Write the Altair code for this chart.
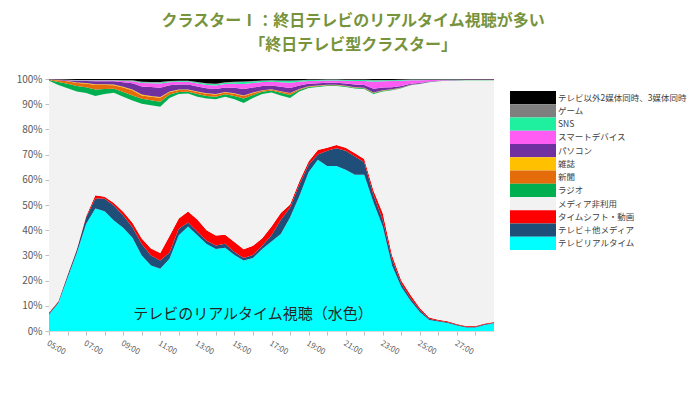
import altair as alt
import pandas as pd

# time of day in hours (05:00 .. 29:00), half-hour steps
hours = [5.0, 5.5, 6.0, 6.5, 7.0, 7.5, 8.0, 8.5, 9.0, 9.5, 10.0, 10.5, 11.0, 11.5,
         12.0, 12.5, 13.0, 13.5, 14.0, 14.5, 15.0, 15.5, 16.0, 16.5, 17.0, 17.5,
         18.0, 18.5, 19.0, 19.5, 20.0, 20.5, 21.0, 21.5, 22.0, 22.5, 23.0, 23.5,
         24.0, 24.5, 25.0, 25.5, 26.0, 26.5, 27.0, 27.5, 28.0, 28.5, 29.0]

# shares (%) per series, bottom of the stack first
realtime = [6.5, 11, 21, 31, 42.5, 48.6, 47.5, 43.8, 41, 37, 30, 26, 24.7, 28.7,
            38, 41.5, 38, 34.5, 32.5, 33, 30.2, 28, 29, 32.5, 35.5, 38.5,
            45, 53.5, 63, 68, 65.5, 65.5, 64, 62, 62, 51, 41.5, 26,
            17.5, 12, 7.5, 4.4, 3.8, 3.2, 2.2, 1.4, 1.4, 2.4, 3.1]
tv_plus = [0.5, 0.5, 1, 1.2, 2.5, 4, 5, 6, 4.8, 4.2, 4.5, 4, 3.3, 2.5,
           2.6, 1.6, 1.4, 1.3, 1.4, 1.6, 1.1, 1.0, 1.2, 1.3, 2.5, 5.5,
           4, 4.5, 3, 2, 6, 7, 7.5, 7.2, 5, 3, 2.5, 2.5,
           1.3, 1, 0.8, 0.5, 0.3, 0.3, 0.3, 0.3, 0.3, 0.3, 0.2]
timeshift = [0.3, 0.3, 0.3, 0.3, 0.5, 1.3, 0.8, 1, 1.5, 1.8, 2.2, 2.7, 3, 6.5,
             4, 4.3, 4.8, 4.2, 4, 3.6, 4, 3.4, 3.6, 3, 3.5, 2.8,
             1.2, 1.3, 1.3, 1.8, 1.2, 1.3, 1.2, 1.3, 1.3, 1.8, 2.7, 1.6,
             1.2, 1.3, 0.8, 0.5, 0.4, 0.4, 0.3, 0.3, 0.3, 0.3, 0.3]
nonuse = [92.0, 85.8, 74.0, 62.5, 48.9, 39.4, 40.7, 43.7, 45.7, 48.5, 53.5, 56.9, 58.0, 54.8,
          49.4, 46.8, 48.8, 52.3, 54.1, 54.8, 56.7, 58.1, 58.7, 57.2, 53.1, 46.7,
          42.3, 35.7, 29.1, 25.0, 24.5, 23.4, 24.1, 25.7, 27.7, 38.2, 48.3, 65.4,
          76.3, 83.2, 88.9, 93.3, 94.6, 95.4, 96.6, 97.5, 97.5, 96.5, 95.9]
radio = [0.3, 1.2, 1.8, 2.2, 2.3, 2.5, 2, 1.6, 1.8, 2, 2, 2, 2, 1.3,
         0.8, 0.7, 1, 1, 1, 0.9, 1.3, 1.8, 1.2, 0.9, 0.8, 1,
         1.2, 0.6, 0.4, 0.3, 0.3, 0.3, 0.3, 0.3, 0.3, 0.4, 0.3, 0.2,
         0.2, 0.1, 0.1, 0.1, 0.1, 0.1, 0.1, 0.1, 0.1, 0.1, 0.1]
newspaper = [0.2, 0.6, 1, 1.2, 1.5, 1.8, 1.6, 1.4, 1.8, 2, 1.3, 1.4, 1.6, 1,
             0.8, 0.7, 0.8, 0.8, 0.8, 0.7, 0.8, 1, 0.7, 0.5, 0.4, 0.5,
             0.6, 0.3, 0.2, 0.2, 0.1, 0.1, 0.1, 0.1, 0.1, 0.1, 0.1, 0.1,
             0.1, 0.1, 0, 0, 0, 0, 0, 0, 0, 0, 0]
magazine = [0, 0.1, 0.1, 0.2, 0.2, 0.3, 0.3, 0.3, 0.3, 0.3, 0.3, 0.3, 0.3, 0.2,
            0.2, 0.2, 0.2, 0.2, 0.2, 0.2, 0.2, 0.2, 0.2, 0.1, 0.1, 0.1,
            0.1, 0.1, 0.1, 0.1, 0.1, 0.1, 0.1, 0.1, 0.1, 0.1, 0.1, 0.1,
            0, 0, 0, 0, 0, 0, 0, 0, 0, 0, 0]
pc = [0.1, 0.2, 0.3, 0.6, 0.8, 1.2, 1.2, 1.3, 1.8, 2.5, 3.2, 3.5, 3.6, 2.5,
      2, 2, 2, 2, 2, 1.8, 2.2, 2.5, 2, 1.7, 1.5, 1.8,
      2, 1.4, 1, 0.9, 0.8, 0.8, 0.9, 1.1, 1.1, 1.5, 1.1, 0.8,
      0.6, 0.4, 0.3, 0.2, 0.1, 0.1, 0.1, 0.1, 0.1, 0.1, 0.1]
smart = [0, 0.1, 0.1, 0.2, 0.2, 0.3, 0.3, 0.3, 0.5, 0.8, 1.4, 1.5, 1.7, 1.2,
         1.1, 1.1, 1.2, 1.3, 1.4, 1.4, 1.6, 2, 1.8, 1.6, 1.5, 1.8,
         2.1, 1.5, 1.1, 1, 0.9, 0.9, 1.1, 1.4, 1.6, 2.8, 2.5, 2.5,
         2.1, 1.4, 1.1, 0.6, 0.3, 0.2, 0.1, 0.1, 0.1, 0.1, 0.1]
sns = [0, 0, 0.1, 0.1, 0.1, 0.1, 0.1, 0.1, 0.2, 0.2, 0.3, 0.3, 0.4, 0.3,
       0.3, 0.3, 0.4, 0.5, 0.5, 0.5, 0.6, 0.8, 0.6, 0.5, 0.5, 0.6,
       0.7, 0.5, 0.4, 0.3, 0.3, 0.3, 0.3, 0.4, 0.4, 0.5, 0.4, 0.3,
       0.3, 0.2, 0.2, 0.1, 0.1, 0.1, 0.1, 0, 0, 0, 0]
game = [0, 0, 0, 0.1, 0.1, 0.1, 0.1, 0.1, 0.1, 0.2, 0.2, 0.2, 0.2, 0.2,
        0.1, 0.1, 0.2, 0.2, 0.2, 0.2, 0.2, 0.2, 0.2, 0.1, 0.1, 0.1,
        0.2, 0.1, 0.1, 0.1, 0.1, 0.1, 0.1, 0.1, 0.1, 0.2, 0.1, 0.1,
        0.1, 0.1, 0.1, 0.1, 0.1, 0, 0, 0, 0, 0, 0]
multi = [0.1, 0.2, 0.3, 0.4, 0.4, 0.4, 0.4, 0.4, 0.5, 0.5, 1.1, 1.2, 1.2, 0.8,
         0.7, 0.7, 1.2, 1.7, 1.9, 1.3, 1.1, 1, 0.8, 0.6, 0.5, 0.6,
         0.6, 0.5, 0.3, 0.3, 0.2, 0.2, 0.3, 0.3, 0.3, 0.4, 0.4, 0.4,
         0.3, 0.2, 0.2, 0.2, 0.2, 0.2, 0.2, 0.2, 0.2, 0.2, 0.2]

series_names = ["テレビリアルタイム", "テレビ＋他メディア", "タイムシフト・動画", "メディア非利用",
                "ラジオ", "新聞", "雑誌", "パソコン", "スマートデバイス", "SNS", "ゲーム",
                "テレビ以外2媒体同時、3媒体同時"]
series_values = [realtime, tv_plus, timeshift, nonuse, radio, newspaper, magazine,
                 pc, smart, sns, game, multi]
series_colors = ["#00ffff", "#1f4e79", "#ff0000", "#f2f2f2", "#00b050", "#e46c0a",
                 "#ffc000", "#7030a0", "#ff5cf4", "#1ef0a0", "#7f7f7f", "#000000"]

annotation = "テレビのリアルタイム視聴（水色）"
title_lines = ["クラスターⅠ：終日テレビのリアルタイム視聴が多い", "「終日テレビ型クラスター」"]
y_ticks = [0, 0.1, 0.2, 0.3, 0.4, 0.5, 0.6, 0.7, 0.8, 0.9, 1.0]
x_ticks = [5, 6, 7, 8, 9, 10, 11, 12, 13, 14, 15, 16, 17, 18, 19, 20, 21, 22, 23,
           24, 25, 26, 27, 28]

rows = []
for k, (name, vals) in enumerate(zip(series_names, series_values)):
    for h, v in zip(hours, vals):
        rows.append({"hour": h, "share": v, "series": name, "order": k})
df = pd.DataFrame(rows)

color_scale = alt.Scale(domain=series_names, range=series_colors)

x_axis = alt.Axis(
    values=x_ticks,
    labelExpr="datum.value % 2 == 1 ? (datum.value < 10 ? '0' + datum.value : '' + datum.value) + ':00' : ''",
    labelAngle=30, labelAlign="left", labelBaseline="top", labelPadding=4,
    labelFontSize=8, labelColor="#595959", labelOverlap=False,
    tickSize=4, tickColor="#bfbfbf", domainColor="#d9d9d9", grid=False, title=None,
)
y_axis = alt.Axis(
    values=y_ticks, format=".0%", labelOverlap=False,
    labelFontSize=10, labelColor="#595959", labelPadding=3,
    tickSize=4, tickColor="#bfbfbf", domainColor="#d9d9d9", grid=False, title=None,
)
x_scale = alt.Scale(domain=[5, 29], nice=False, zero=False)
y_scale = alt.Scale(domain=[0, 1], nice=False)

areas = alt.Chart(df).mark_area(interpolate="linear").encode(
    x=alt.X("hour:Q", scale=x_scale, axis=x_axis),
    y=alt.Y("share:Q", stack="normalize", scale=y_scale, axis=y_axis),
    color=alt.Color("series:N", scale=color_scale, legend=None),
    order=alt.Order("order:Q", sort="ascending"),
)

note_df = pd.DataFrame({"hour": [16.0], "pos": [0.067], "label": [annotation]})
note = alt.Chart(note_df).mark_text(fontSize=15, color="#262626", align="center",
                                    baseline="middle").encode(
    x=alt.X("hour:Q", scale=x_scale, axis=x_axis),
    y=alt.Y("pos:Q", scale=y_scale, axis=y_axis),
    text="label:N")

main = alt.layer(areas, note).properties(width=445, height=252)

legend_names = list(reversed(series_names))
leg_df = pd.DataFrame({"series": legend_names})
leg_y = alt.Y("series:N", sort=legend_names, axis=None,
              scale=alt.Scale(range=[12, 171], paddingInner=0, paddingOuter=0))
leg_rect = alt.Chart(leg_df).mark_rect().encode(
    y=leg_y, x=alt.value(0), x2=alt.value(46),
    color=alt.Color("series:N", scale=color_scale, legend=None))
leg_text = alt.Chart(leg_df).mark_text(align="left", baseline="middle", fontSize=8.5,
                                        color="#404040").encode(
    y=leg_y, x=alt.value(48), text="series:N")
legend = alt.layer(leg_rect, leg_text).properties(width=180, height=252)

chart = alt.hconcat(main, legend, spacing=16).properties(
    title=alt.TitleParams(title_lines, fontSize=16, fontWeight="bold", color="#77933c",
                          anchor="middle", lineHeight=24, offset=21),
    padding={"left": 8, "top": 5, "right": 0, "bottom": 5},
).configure(font="Noto Sans CJK JP").configure_view(stroke=None)

chart.save("out.html", embed_options={"renderer": "svg", "actions": False})
